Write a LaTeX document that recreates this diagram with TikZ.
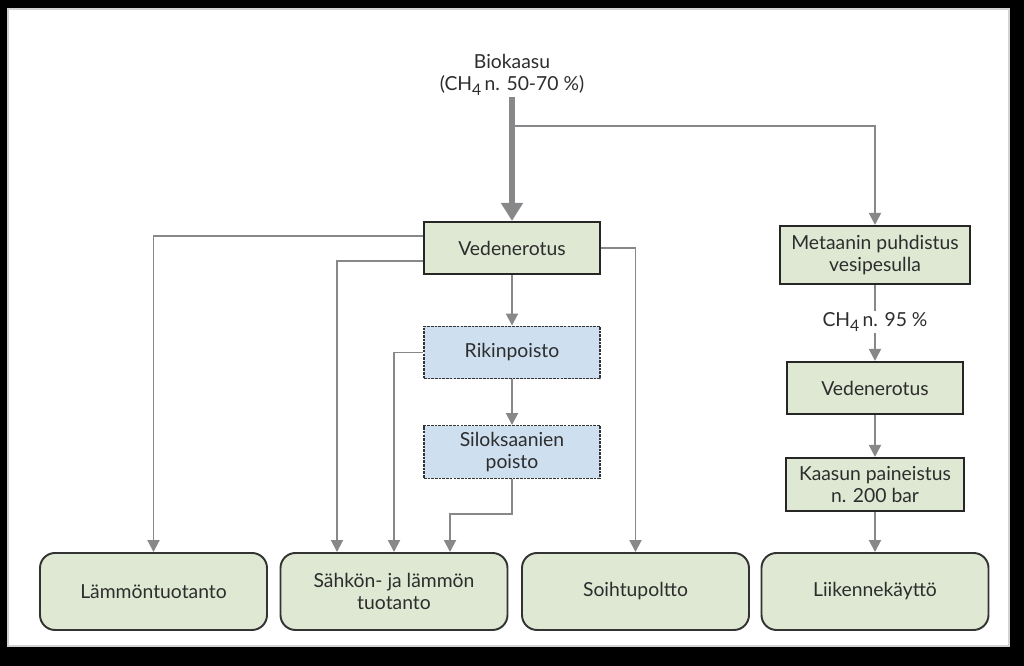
\documentclass[tikz,border=0pt]{standalone}
\usepackage{fontspec}
\setmainfont{Lato}
\usetikzlibrary{arrows.meta}
\definecolor{boxgreen}{RGB}{222,232,211}
\definecolor{boxblue}{RGB}{206,223,240}
\definecolor{linegray}{RGB}{136,136,138}
\definecolor{textgray}{RGB}{45,45,45}
\newcommand{\lowfour}{\raisebox{-0.45ex}{\fontsize{9}{9}\selectfont 4}}
\begin{document}
\begin{tikzpicture}[
    font=\fontsize{11}{12.5}\selectfont,
    greenbox/.style={draw=black!85, line width=1.2pt, fill=boxgreen, text=textgray,
      minimum width=3.52cm, minimum height=1.04cm, align=center, inner sep=1pt},
    bluebox/.style={draw=black!80, line width=0.8pt, dash pattern=on 1.5pt off 0.6pt,
      fill=boxblue, text=textgray, minimum width=3.52cm, minimum height=1.05cm, align=center, inner sep=1pt},
    endbox/.style={draw=black!80, line width=1.1pt, rounded corners=0.3cm, fill=boxgreen, text=textgray,
      minimum width=4.54cm, minimum height=1.54cm, align=center},
    label/.style={text=textgray, align=center, inner sep=1pt},
    pipe/.style={draw=linegray, line width=1.1pt},
    flow/.style={pipe, -{Triangle[width=0.24cm,length=0.24cm]}},
    mainflow/.style={draw=linegray, line width=3.8pt, -{Triangle[width=0.42cm,length=0.36cm]}}
  ]
  % frame
  \fill[black] (0,0) rectangle (20.48,13.32);
  \fill[white] (0.14,0.38) rectangle (20.2,13.16);
  \draw[gray!35, line width=1pt] (0.16,0.4) rectangle (20.18,13.14);

  % source
  \node[label] (bio) at (10.24,11.82) {Biokaasu\\(CH\lowfour\,n. 50-70 \%)};
  \coordinate (split) at (10.24,10.8);

  % left branch
  \node[greenbox] (ved) at (10.24,8.36) {Vedenerotus};
  \node[bluebox] (rik) at (10.24,6.27) {Rikinpoisto};
  \node[bluebox] (silo) at (10.24,4.28) {Siloksaanien\\poisto};

  % right branch
  \node[greenbox, minimum width=3.8cm, minimum height=1.16cm] (met) at (17.5,8.22) {Metaanin puhdistus\\vesipesulla};
  \node[label] (ch4) at (17.5,6.88) {CH\lowfour\,n. 95 \%};
  \node[greenbox] (ved2) at (17.5,5.56) {Vedenerotus};
  \node[greenbox, minimum width=3.56cm, minimum height=1.06cm] (kaa) at (17.5,3.63) {Kaasun paineistus\\n. 200 bar};

  % end uses
  \node[endbox] (lam) at (3.07,1.49) {Lämmöntuotanto};
  \node[endbox] (sah) at (7.88,1.49) {Sähkön- ja lämmön\\tuotanto};
  \node[endbox] (soi) at (12.71,1.49) {Soihtupoltto};
  \node[endbox] (lii) at (17.5,1.49) {Liikennekäyttö};

  % connectors
  \draw[mainflow] (bio.south) -- (ved.north);
  \draw[flow] (split) -| (met.north);
  \draw[flow] ([yshift=0.24cm]ved.west) -| (lam.north);
  \draw[flow] ([yshift=-0.26cm]ved.west) -| ([xshift=-1.14cm]sah.north);
  \draw[flow] (ved.east) -| (soi.north);
  \draw[flow] (ved.south) -- (rik.north);
  \draw[flow] (rik.west) -| (sah.north);
  \draw[flow] (rik.south) -- (silo.north);
  \draw[flow] (silo.south) -- ++(0,-0.7) -| ([xshift=1.12cm]sah.north);
  \draw[pipe] (met.south) -- (ch4.north);
  \draw[flow] (ch4.south) -- (ved2.north);
  \draw[flow] (ved2.south) -- (kaa.north);
  \draw[flow] (kaa.south) -- (lii.north);
\end{tikzpicture}
\end{document}
